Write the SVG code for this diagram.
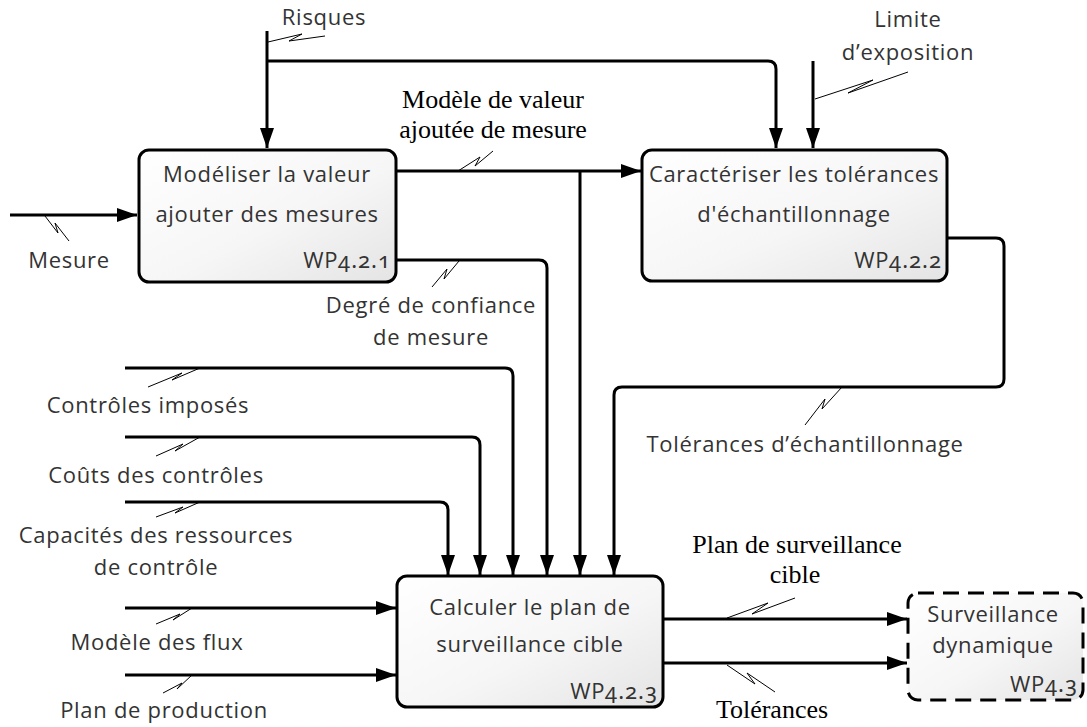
<svg xmlns="http://www.w3.org/2000/svg" width="1087" height="727" viewBox="0 0 1087 727">
<defs>
<linearGradient id="g" x1="0" y1="0" x2="1" y2="1">
<stop offset="0" stop-color="#ffffff"/>
<stop offset="0.55" stop-color="#f6f6f6"/>
<stop offset="1" stop-color="#e4e4e4"/>
</linearGradient>
<marker id="ah" markerUnits="userSpaceOnUse" markerWidth="20" markerHeight="14" refX="20" refY="7" orient="auto">
<path d="M0,0 L20,7 L0,14 z" fill="#000"/>
</marker>
<style>
.box{fill:url(#g);stroke:#000;stroke-width:3}
.dash{stroke-dasharray:16 9}
.c{fill:none;stroke:#000;stroke-width:3}
.a{marker-end:url(#ah)}
.sq{fill:none;stroke:#000;stroke-width:1}
.t{font-family:"Open Sans","Noto Sans",sans-serif;font-size:22px;letter-spacing:0.7px;fill:#333;text-anchor:middle}
.wp{font-family:"Open Sans","Noto Sans",sans-serif;font-size:22px;letter-spacing:0.7px;fill:#333;text-anchor:end}
.d{font-family:"Noto Sans","Open Sans",sans-serif;font-size:22px;font-variant-numeric:oldstyle-nums;font-feature-settings:"onum" 1;letter-spacing:1px}
.s{font-family:"Liberation Serif","Times New Roman",serif;font-size:26px;font-weight:normal;fill:#000;text-anchor:middle}
</style>
</defs>
<rect width="1087" height="727" fill="#fff"/>
<g id="connectors">
<path class="c a" d="M267,31 V148"/>
<path class="c a" d="M267,61 H768 Q776,61 776,69 V148"/>
<path class="c a" d="M813,61 V148"/>
<path class="c a" d="M10,215 H137"/>
<path class="c a" d="M396,171 H641"/>
<path class="c a" d="M580,171 V575"/>
<path class="c a" d="M396,260 H539 Q547,260 547,268 V575"/>
<path class="c a" d="M947,238 H996 Q1004,238 1004,246 V379 Q1004,387 996,387 H622 Q614,387 614,395 V575"/>
<path class="c a" d="M125,368 H505 Q513,368 513,376 V575"/>
<path class="c a" d="M125,437 H472 Q480,437 480,445 V575"/>
<path class="c a" d="M125,502 H440 Q448,502 448,510 V575"/>
<path class="c a" d="M125,608 H396"/>
<path class="c a" d="M125,675 H396"/>
<path class="c a" d="M663,619 H907"/>
<path class="c a" d="M663,663 H907"/>
<polyline class="sq" points="268,42 302,34 289,41 325,36"/>
<polyline class="sq" points="45,216 58,233 55,223 69,241"/>
<polyline class="sq" points="458,171 480,157 475,166 493,151"/>
<polyline class="sq" points="459,261 444,279 447,269 432,287"/>
<polyline class="sq" points="815,99 873,80 848,93 908,72"/>
<polyline class="sq" points="148,387 182,373 172,380 200,368"/>
<polyline class="sq" points="156,456 183,444 175,451 200,437"/>
<polyline class="sq" points="156,517 183,507 175,513 200,502"/>
<polyline class="sq" points="156,624 180,614 173,620 192,608"/>
<polyline class="sq" points="163,693 182,683 177,689 192,675"/>
<polyline class="sq" points="842,387 822,409 825,399 805,425"/>
<polyline class="sq" points="727,618 768,603 752,614 795,598"/>
<polyline class="sq" points="727,665 755,684 747,673 775,692"/>
<text class="t" x="324" y="25">Risques</text>
<text class="t" x="908" y="27">Limite</text>
<text class="t" x="908" y="60">d’exposition</text>
<text class="t" x="69" y="268">Mesure</text>
<text class="s" x="493" y="108">Modèle de valeur</text>
<text class="s" x="493" y="138">ajoutée de mesure</text>
<text class="t" x="431" y="313">Degré de confiance</text>
<text class="t" x="431" y="345">de mesure</text>
<text class="t" x="148" y="413">Contrôles imposés</text>
<text class="t" x="156" y="483">Coûts des contrôles</text>
<text class="t" x="156" y="543">Capacités des ressources</text>
<text class="t" x="156" y="575">de contrôle</text>
<text class="t" x="157" y="650">Modèle des flux</text>
<text class="t" x="164" y="718">Plan de production</text>
<text class="t" x="805" y="452">Tolérances d’échantillonnage</text>
<text class="s" x="797" y="553">Plan de surveillance</text>
<text class="s" x="795" y="583">cible</text>
<text class="s" x="772" y="718">Tolérances</text>
</g>
<g id="n1">
<rect class="box" x="139" y="150" width="257" height="132" rx="10"/>
<text class="t" x="267" y="182">Modéliser la valeur</text>
<text class="t" x="267" y="222">ajouter des mesures</text>
<text class="wp" x="391" y="268">WP<tspan class="d">4.2.1</tspan></text>
</g>
<g id="n2">
<rect class="box" x="642" y="150" width="305" height="131" rx="10"/>
<text class="t" x="794" y="182">Caractériser les tolérances</text>
<text class="t" x="794" y="222">d'échantillonnage</text>
<text class="wp" x="942" y="268">WP<tspan class="d">4.2.2</tspan></text>
</g>
<g id="n3">
<rect class="box" x="397" y="576" width="266" height="131" rx="10"/>
<text class="t" x="530" y="615">Calculer le plan de</text>
<text class="t" x="530" y="652">surveillance cible</text>
<text class="wp" x="658" y="699">WP<tspan class="d">4.2.3</tspan></text>
</g>
<g id="n4">
<rect class="box dash" x="908" y="593" width="175" height="107" rx="10"/>
<text class="t" x="993" y="622">Surveillance</text>
<text class="t" x="993" y="653">dynamique</text>
<text class="wp" x="1078" y="692">WP<tspan class="d">4.3</tspan></text>
</g>
</svg>
